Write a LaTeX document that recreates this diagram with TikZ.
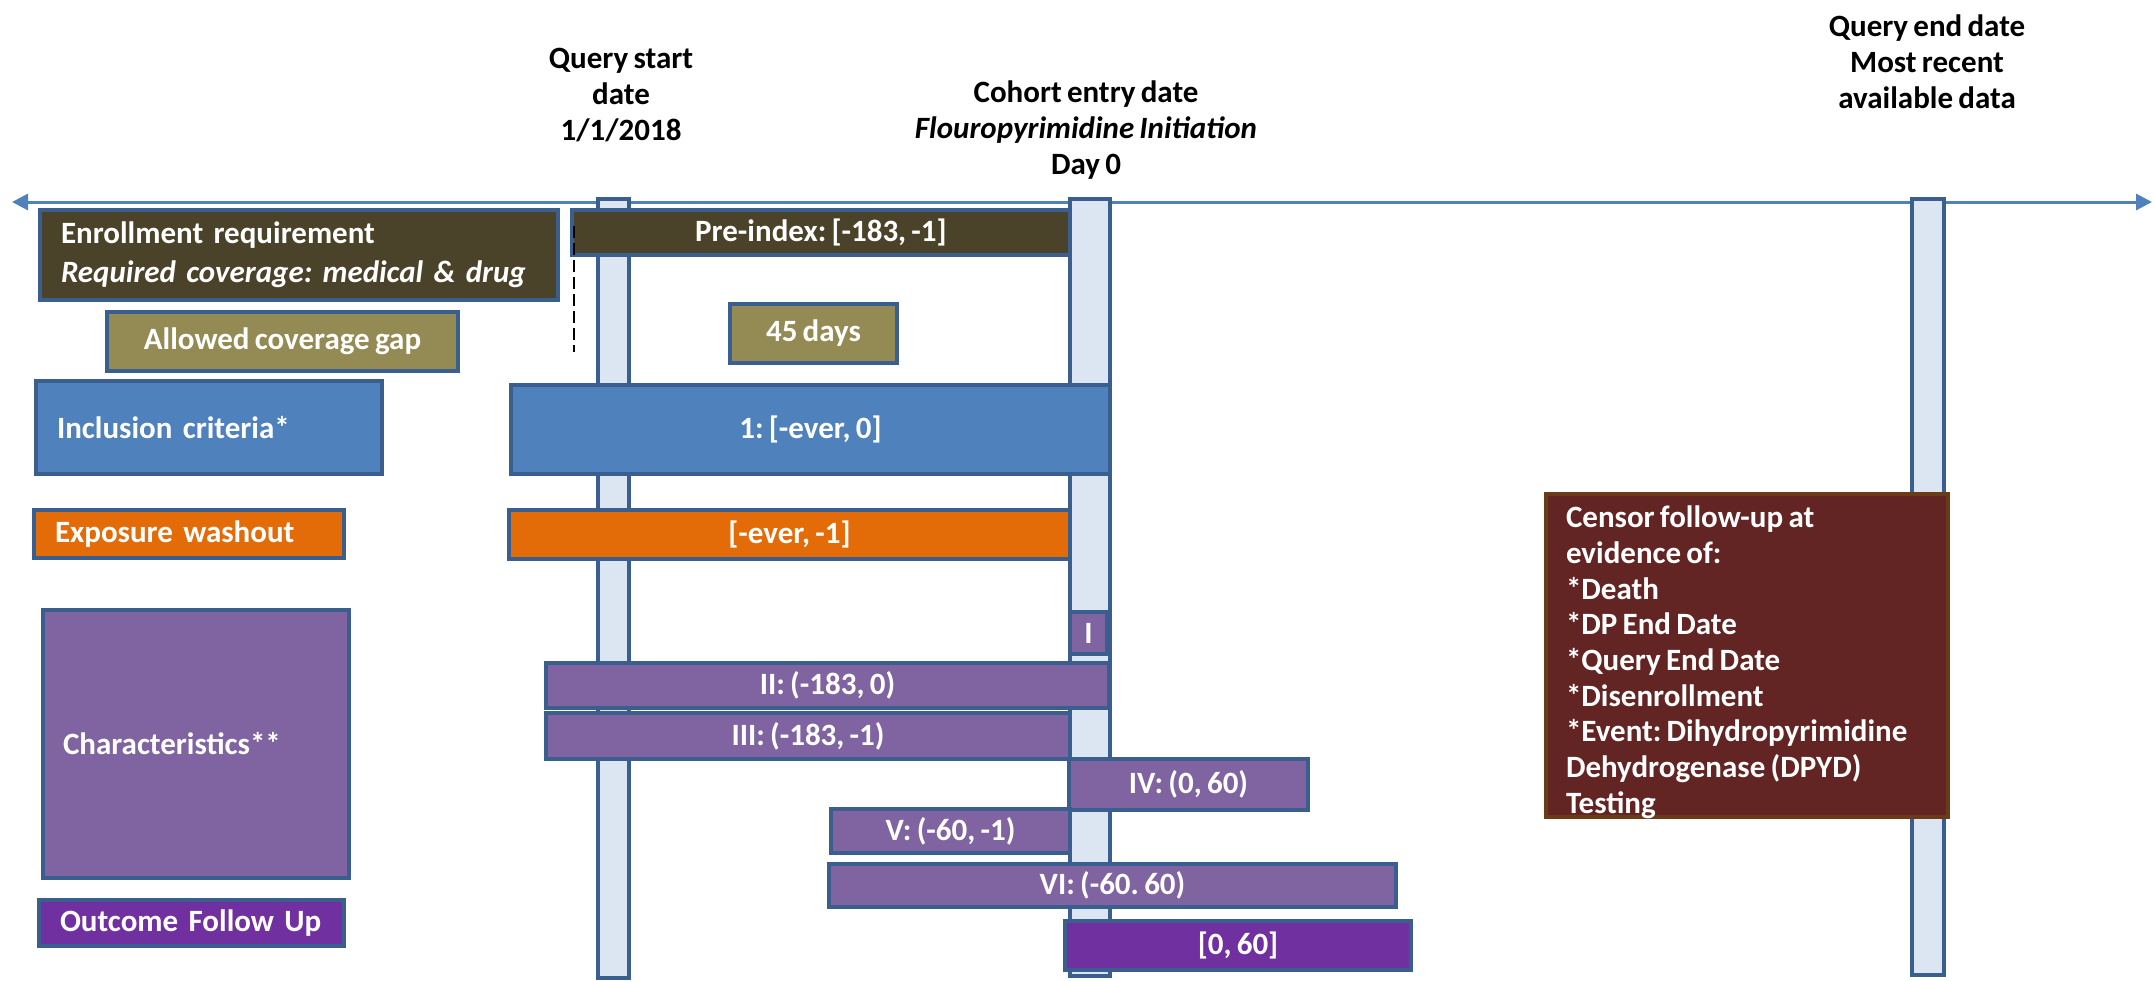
\documentclass[tikz,border=0pt]{standalone}
\usepackage{fontspec}
\setmainfont{Carlito}[WordSpace=0.75]
\usetikzlibrary{arrows.meta}
\frenchspacing
\definecolor{barfill}{HTML}{DCE6F2}
\definecolor{barline}{HTML}{3A5F8F}
\definecolor{axiscol}{HTML}{4F81BD}
\definecolor{enrollc}{HTML}{4A4229}
\definecolor{gapc}{HTML}{948A54}
\definecolor{inclc}{HTML}{4F81BD}
\definecolor{washc}{HTML}{E36C09}
\definecolor{charc}{HTML}{8064A2}
\definecolor{outc}{HTML}{7030A0}
\definecolor{censc}{HTML}{632523}
\definecolor{censline}{HTML}{6B3A17}
\begin{document}
\begin{tikzpicture}[x=1pt,y=-1pt,
  every node/.style={font=\fontsize{31}{36}\selectfont\bfseries, inner sep=0pt, outer sep=0pt},
  box/.style={draw=barline, line width=4.5pt, text=white, anchor=north west},
  lbox/.style={box, align=left, inner xsep=21pt},
  bar/.style={draw=barline, fill=barfill, line width=4pt, anchor=north west},
  toplbl/.style={align=center, text=black},
  axisline/.style={draw=axiscol, line width=3pt, {Triangle[length=16pt,width=16pt]}-{Triangle[length=16pt,width=16pt]}},
  dashline/.style={draw=black, line width=2pt, dash pattern=on 12pt off 5pt}
]
\useasboundingbox (0,0) rectangle (2154,980);

% top labels
\node[toplbl] (qs) at (621,95) {Query start\\date\\1/1/2018};
\node[toplbl] (ce) at (1086,130) {Cohort entry date\\\textit{Flouropyrimidine Initiation}\\Day 0};
\node[toplbl] (qe) at (1927,62) {Query end date\\Most recent\\available data};

% axis
\coordinate (axL) at (12,202);
\coordinate (axR) at (2152,202);
\draw[axisline] (axL) -- (axR);

% vertical bars
\node[bar, minimum width=31pt, minimum height=779pt] (barS) at (598,199) {};
\node[bar, minimum width=40pt, minimum height=777pt] (barC) at (1070,199) {};
\node[bar, minimum width=32pt, minimum height=776pt] (barE) at (1912,199) {};

% left labels
\node[lbox, fill=enrollc, minimum width=518pt, minimum height=90pt, text width=476pt] (enr) at (40,210)
  {Enrollment requirement\\[3pt]\textit{Required coverage: medical \& drug}};
\node[box, fill=gapc, minimum width=351pt, minimum height=59pt] (gap) at (107,312) {Allowed coverage gap};
\node[lbox, fill=inclc, minimum width=346pt, minimum height=93pt, text width=304pt] (incl) at (36,381) {Inclusion criteria*};
\node[lbox, fill=washc, minimum width=310pt, minimum height=48pt, text width=268pt] (wash) at (34,510) {Exposure washout};
\node[lbox, fill=charc, minimum width=306pt, minimum height=268pt, text width=266pt, inner xsep=20pt] (char) at (43,610) {Characteristics**};
\node[lbox, fill=outc, minimum width=305pt, minimum height=46pt, text width=263pt] (outf) at (39,900) {Outcome Follow Up};

% timeline boxes
\node[box, fill=enrollc, minimum width=498pt, minimum height=45pt] (pre) at (572,210) {Pre-index: [-183, -1]};
\node[box, fill=gapc, minimum width=167pt, minimum height=59pt] (days) at (730,304) {45 days};
\node[box, fill=inclc, minimum width=599pt, minimum height=89pt] (one) at (511,385) {1: [-ever, 0]};
\node[box, fill=washc, minimum width=561pt, minimum height=49pt] (ever) at (509,510) {[-ever, -1]};
\node[box, fill=charc, minimum width=37pt, minimum height=42pt] (c1) at (1070,612) {I};
\node[box, fill=charc, minimum width=563pt, minimum height=45pt] (c2) at (546,663) {II: (-183, 0)};
\node[box, fill=charc, minimum width=524pt, minimum height=46pt] (c3) at (546,713) {III: (-183, -1)};
\node[box, fill=charc, minimum width=239pt, minimum height=51pt] (c4) at (1069,759) {IV: (0, 60)};
\node[box, fill=charc, minimum width=239pt, minimum height=44pt] (c5) at (831,809) {V: (-60, -1)};
\node[box, fill=charc, minimum width=567pt, minimum height=43pt] (c6) at (829,864) {VI: (-60. 60)};
\node[box, fill=outc, minimum width=346pt, minimum height=49pt] (fu) at (1065,921) {[0, 60]};

% censor box
\node[box, draw=censline, fill=censc, minimum width=402pt, minimum height=323pt] (cens) at (1546,494) {};
\node[anchor=north west, align=left, text=white, font=\fontsize{31}{35.7}\selectfont\bfseries] (censtxt) at (1566,506)
  {Censor follow-up at\\evidence of:\\*Death\\*DP End Date\\*Query End Date\\*Disenrollment\\*Event: Dihydropyrimidine\\Dehydrogenase (DPYD)\\Testing};

% dashed line
\coordinate (dA) at (574,226);
\coordinate (dB) at (574,352);
\draw[dashline] (dA) -- (dB);
\end{tikzpicture}
\end{document}
